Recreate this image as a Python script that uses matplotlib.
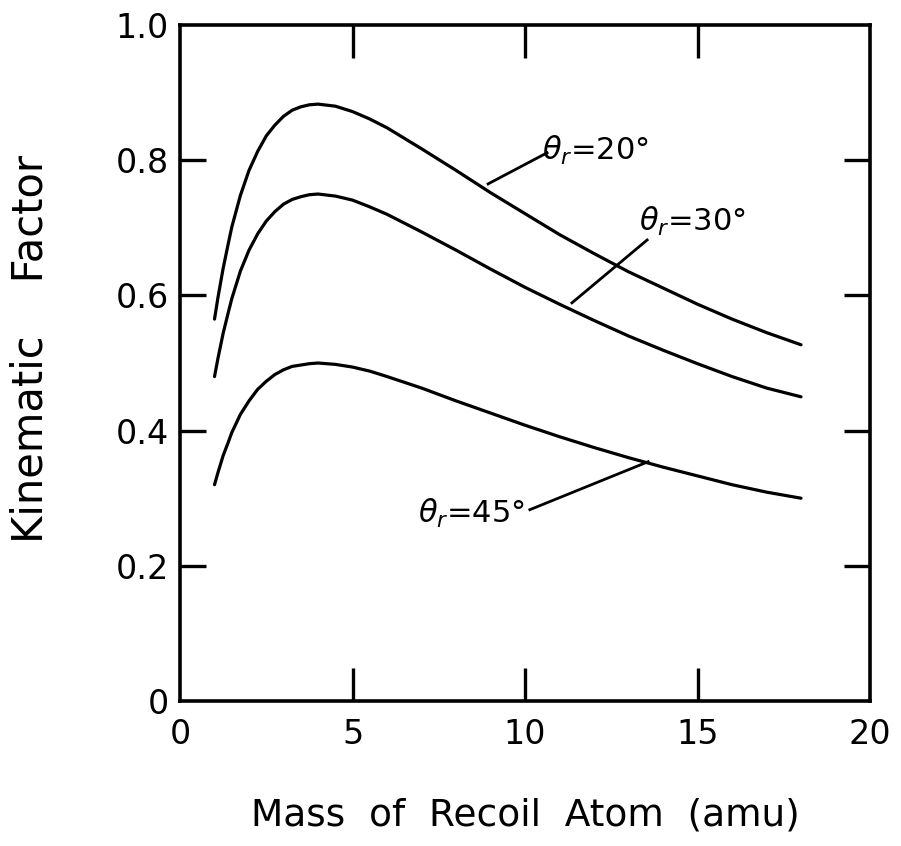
import matplotlib.pyplot as plt

plt.rcParams['font.family'] = ['DejaVu Sans']
plt.rcParams['mathtext.fontset'] = 'dejavusans'

# mass of recoil atom (amu)
mass = [1, 1.1, 1.25, 1.4, 1.5, 1.75, 2, 2.25, 2.5, 2.75, 3, 3.25, 3.5, 3.75,
        4, 4.5, 5, 5.5, 6, 7, 8, 9, 10, 11, 12, 13, 14, 15, 16, 17, 18]

# kinematic factor
k_20 = [0.565, 0.597, 0.640, 0.677, 0.701, 0.748, 0.785, 0.813, 0.836, 0.852,
        0.865, 0.874, 0.879, 0.882, 0.883, 0.880, 0.872, 0.861, 0.848, 0.817,
        0.785, 0.752, 0.721, 0.690, 0.662, 0.635, 0.611, 0.587, 0.565, 0.545,
        0.527]
k_30 = [0.480, 0.507, 0.544, 0.575, 0.595, 0.636, 0.667, 0.691, 0.710, 0.724,
        0.735, 0.742, 0.746, 0.749, 0.750, 0.747, 0.741, 0.731, 0.720, 0.694,
        0.667, 0.639, 0.612, 0.587, 0.563, 0.540, 0.519, 0.499, 0.480, 0.463,
        0.450]
k_45 = [0.320, 0.338, 0.363, 0.383, 0.397, 0.424, 0.444, 0.461, 0.473, 0.483,
        0.490, 0.495, 0.497, 0.499, 0.500, 0.498, 0.494, 0.488, 0.480, 0.463,
        0.444, 0.426, 0.408, 0.391, 0.375, 0.360, 0.346, 0.333, 0.320, 0.309,
        0.300]

x_ticks = [0, 5, 10, 15, 20]
y_ticks = [0, 0.2, 0.4, 0.6, 0.8, 1.0]
y_ticklabels = ['0', '0.2', '0.4', '0.6', '0.8', '1.0']

fig = plt.figure(figsize=(9.01, 8.46), dpi=100)
ax = fig.add_axes([0.1998, 0.1714, 0.7658, 0.7990])

for k in (k_20, k_30, k_45):
    ax.plot(mass, k, color='black', lw=2.3, solid_capstyle='round',
            solid_joinstyle='round')

ax.set_xlim(0, 20)
ax.set_ylim(0, 1.0)
ax.set_xticks(x_ticks)
ax.set_yticks(y_ticks)
ax.set_yticklabels(y_ticklabels)

for s in ax.spines.values():
    s.set_linewidth(2.6)

ax.tick_params(axis='both', direction='in', width=2.4, labelsize=24,
               top=True, right=True)
ax.tick_params(axis='x', length=24, pad=12)
ax.tick_params(axis='y', length=19, pad=8)
# no tick marks at the axis ends
for t in ax.xaxis.get_major_ticks()[::4] + ax.yaxis.get_major_ticks()[::5]:
    t.tick1line.set_visible(False)
    t.tick2line.set_visible(False)

ax.set_xlabel('Mass  of  Recoil  Atom  (amu)', fontsize=27, labelpad=34)
ax.set_ylabel('Kinematic    Factor', fontsize=30)
ax.yaxis.set_label_coords(-0.186, 0.52)

# curve labels with leader lines
ax.plot([8.93, 10.64], [0.765, 0.811], color='black', lw=2.0)
ax.text(10.5, 0.815, r'$\theta_r$=20°', fontsize=22, va='center', ha='left')

ax.plot([11.36, 13.54], [0.589, 0.682], color='black', lw=2.0)
ax.text(13.3, 0.71, r'$\theta_r$=30°', fontsize=22, va='center', ha='left')

ax.plot([13.57, 10.14], [0.354, 0.283], color='black', lw=2.0)
ax.text(10.0, 0.278, r'$\theta_r$=45°', fontsize=22, va='center', ha='right')

fig.savefig('out.png', dpi=100)
